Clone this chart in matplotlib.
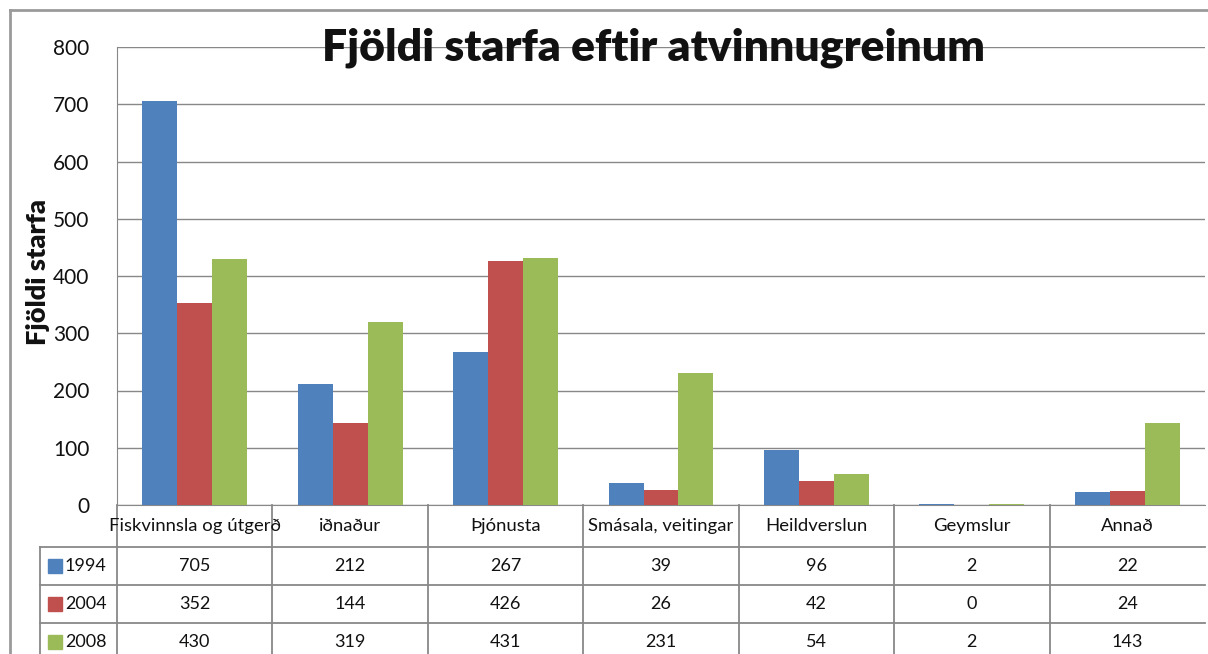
import matplotlib
matplotlib.use("Agg")
import matplotlib.pyplot as plt
import matplotlib.transforms as mtransforms
from matplotlib.patches import Rectangle
import numpy as np

plt.rcParams['font.family'] = ['Lato', 'DejaVu Sans']

title = "Fjöldi starfa eftir atvinnugreinum"
ylabel = "Fjöldi starfa"
categories = ["Fiskvinnsla og útgerð", "iðnaður", "Þjónusta", "Smásala, veitingar",
              "Heildverslun", "Geymslur", "Annað"]
series_names = ["1994", "2004", "2008"]
v1994 = [705, 212, 267, 39, 96, 2, 22]
v2004 = [352, 144, 426, 26, 42, 0, 24]
v2008 = [430, 319, 431, 231, 54, 2, 143]
yticks = [0, 100, 200, 300, 400, 500, 600, 700, 800]
colors = ["#4F81BD", "#C0504D", "#9BBB59"]
series = [v1994, v2004, v2008]

W, H = 1208, 654
fig = plt.figure(figsize=(W / 100, H / 100), dpi=100)
fig.patch.set_facecolor("white")

# outer chart frame (left and top edges visible)
fig.add_artist(plt.Line2D([10 / W, 10 / W], [0, 1 - 10 / H], color="#9a9a9a", lw=2))
fig.add_artist(plt.Line2D([10 / W, 1], [1 - 10 / H, 1 - 10 / H], color="#9a9a9a", lw=2))

L, R, T, B = 117, 1205, 47, 505
ax = fig.add_axes([L / W, 1 - B / H, (R - L) / W, (B - T) / H])
n = len(categories)
ax.set_xlim(0, n)
ax.set_ylim(0, 800)

gridc = "#888888"
x = np.arange(n) + 0.5
bw = 0.225
for k, (vals, c) in enumerate(zip(series, colors)):
    ax.bar(x + (k - 1) * bw, vals, width=bw, color=c, zorder=3, linewidth=0)

ax.set_yticks(yticks)
ax.set_yticklabels([str(t) for t in yticks], fontsize=15, color="#111111")
ax.set_xticks([])
ax.yaxis.grid(True, color=gridc, lw=1, zorder=0)
ax.tick_params(axis='y', length=0, pad=20)
for s in ["top", "right"]:
    ax.spines[s].set_visible(False)
ax.spines["left"].set_color(gridc)
ax.spines["bottom"].set_color(gridc)
ax.set_facecolor("none")

fig.text(38 / W, 1 - 272 / H, ylabel, rotation=90, fontsize=19.5, fontweight="heavy",
         ha="center", va="center", color="#111111")
fig.text(653 / W, 1 - 60 / H, title, fontsize=32, fontweight="heavy",
         ha="center", va="baseline", color="#111111")

# data table
tr = mtransforms.blended_transform_factory(ax.transData, ax.transAxes)
ph = B - T
def ya(py):
    return (B - py) / ph

rows_px = [505, 547, 585, 623, 661]
colw = (R - L) / n
key_left = (40 - L) / colw

def line(x0, x1, y0, y1):
    ax.add_line(plt.Line2D([x0, x1], [y0, y1], transform=tr, color=gridc, lw=1.3, clip_on=False))

# horizontal lines
for py in rows_px[1:4]:
    line(key_left, n, ya(py), ya(py))
# vertical lines
for i in range(0, n):
    line(i, i, ya(505), ya(661))
line(key_left, key_left, ya(547), ya(661))

for i, cat in enumerate(categories):
    ax.text(i + 0.5, ya(526), cat, transform=tr, ha="center", va="center",
            fontsize=13.3, color="#111111", clip_on=False)

row_centers = [566, 604, 642]
for r, (name, vals, c) in enumerate(zip(series_names, series, colors)):
    yc = ya(row_centers[r])
    sq = 14 / colw
    ax.add_patch(Rectangle((key_left + 8 / colw, yc - 7 / ph), sq, 14 / ph,
                           transform=tr, color=c, clip_on=False))
    ax.text(key_left + 25 / colw, yc, name, transform=tr, ha="left", va="center",
            fontsize=13, color="#111111", clip_on=False)
    for i, v in enumerate(vals):
        ax.text(i + 0.5, yc, str(v), transform=tr, ha="center", va="center",
                fontsize=13, color="#111111", clip_on=False)

fig.savefig("out.png", dpi=100)
